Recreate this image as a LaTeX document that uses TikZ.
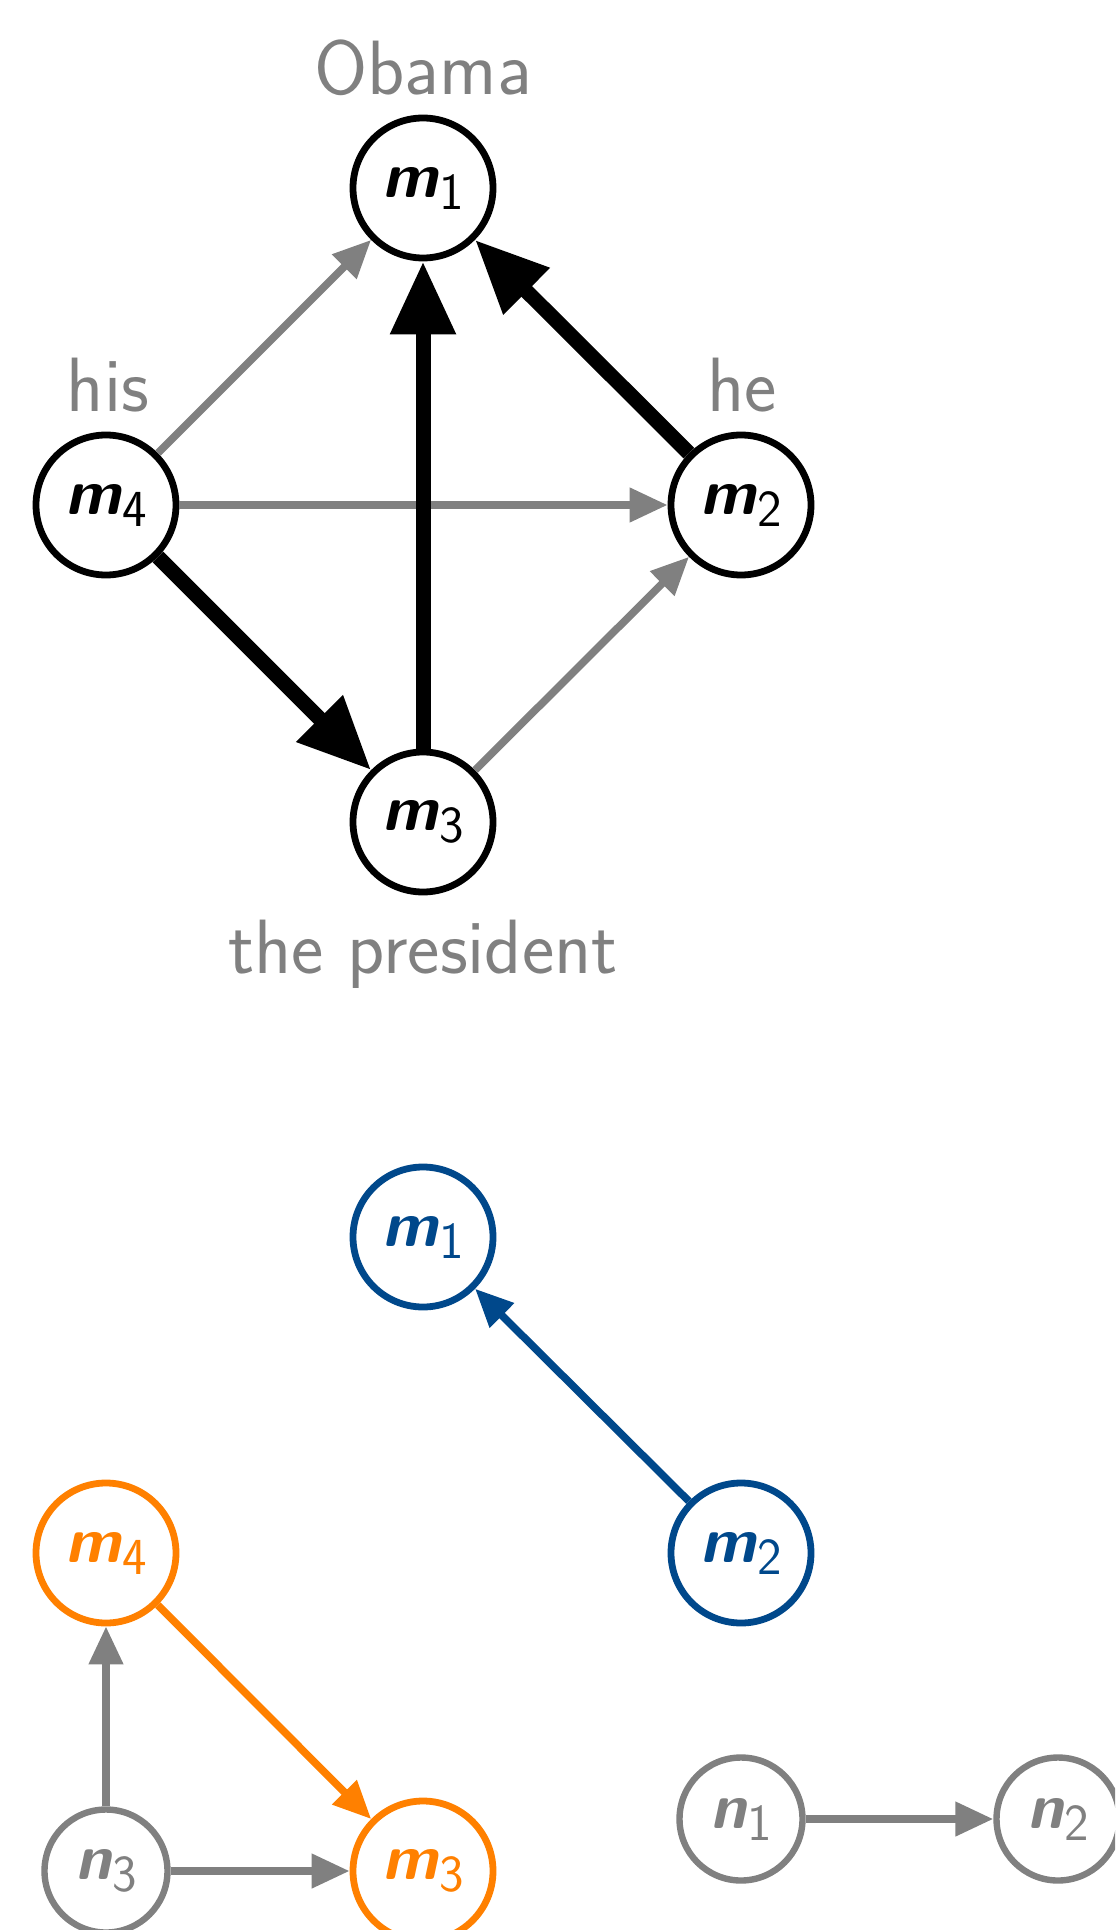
\documentclass[tikz,border=0pt]{standalone}
\usetikzlibrary{arrows.meta}
\definecolor{myblue}{RGB}{0,72,139}
\definecolor{myorange}{RGB}{255,128,0}
\definecolor{mygray}{RGB}{128,128,128}
\newcommand{\mvar}[2]{{\fontsize{32}{32}\selectfont\sffamily\bfseries\slshape #1}\kern0.5pt\raisebox{-6pt}{\fontsize{26}{26}\selectfont\sffamily #2}}
\tikzset{
  vtx/.style={circle, draw=black, fill=white, line width=3.4pt, minimum size=70pt, inner sep=0pt, text=black},
  nvtx/.style={circle, draw=mygray, fill=white, line width=3.2pt, minimum size=61.5pt, inner sep=0pt, text=mygray},
  lbl/.style={text=mygray, anchor=base, font=\fontsize{38.5}{42}\selectfont\sffamily},
  thin/.style={draw=mygray, line width=3.8pt, -{Triangle[length=19pt,width=16.5pt]}},
  thick/.style={draw=black, line width=7.5pt, -{Triangle[length=36.5pt,width=31pt]}},
  bluearr/.style={draw=myblue, line width=3.8pt, -{Triangle[length=19pt,width=16.5pt]}},
  orangearr/.style={draw=myorange, line width=3.8pt, -{Triangle[length=19pt,width=16.5pt]}}
}
\begin{document}
\begin{tikzpicture}[x=0.5pt,y=-0.5pt]
\useasboundingbox (0,0) rectangle (1115,1930);
\clip (0,0) rectangle (1115,1930);
% top graph
\node[vtx] (m1) at (423,188) {\mvar{m}{1}};
\node[vtx] (m4) at (106,505) {\mvar{m}{4}};
\node[vtx] (m2) at (741,505) {\mvar{m}{2}};
\node[vtx] (m3) at (423,822) {\mvar{m}{3}};
\node[lbl] (l1) at (423,95) {Obama};
\node[lbl] (l4) at (108,412) {his};
\node[lbl] (l2) at (742,412) {he};
\node[lbl] (l3) at (423,973) {the president};
\draw[thin] (m4) -- (m1);
\draw[thin] (m4) -- (m2);
\draw[thin] (m3) -- (m2);
\draw[thick] (m3) -- (m1);
\draw[thick] (m2) -- (m1);
\draw[thick] (m4) -- (m3);
% bottom graph
\node[vtx, draw=myblue, text=myblue] (b1) at (423,1237) {\mvar{m}{1}};
\node[vtx, draw=myblue, text=myblue] (b2) at (741,1553) {\mvar{m}{2}};
\node[vtx, draw=myorange, text=myorange] (b4) at (106,1553) {\mvar{m}{4}};
\node[vtx, draw=myorange, text=myorange] (b3) at (423,1871) {\mvar{m}{3}};
\node[nvtx] (n3) at (106,1871) {\mvar{n}{3}};
\node[nvtx] (n1) at (741,1819) {\mvar{n}{1}};
\node[nvtx] (n2) at (1058,1819) {\mvar{n}{2}};
\draw[bluearr] (b2) -- (b1);
\draw[orangearr] (b4) -- (b3);
\draw[thin] (n3) -- (b4);
\draw[thin] (n3) -- (b3);
\draw[thin] (n1) -- (n2);
\end{tikzpicture}
\end{document}
